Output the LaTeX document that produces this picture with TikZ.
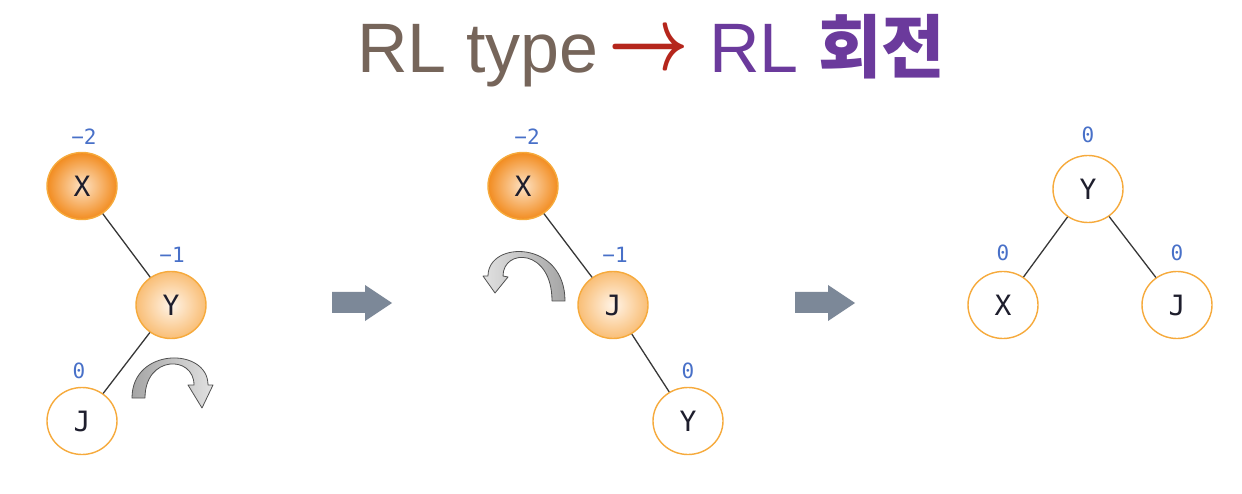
\documentclass[tikz,border=0pt]{standalone}
\usepackage{graphicx}
\usepackage{fontspec}
\setmainfont{Liberation Sans}
\newfontfamily\monof{DejaVu Sans Mono}
\newfontfamily\krf{Noto Sans CJK KR}
\usetikzlibrary{shapes.geometric}
\definecolor{orbord}{RGB}{246,170,60}
\definecolor{hotin}{RGB}{253,226,196}
\definecolor{hotout}{RGB}{242,140,32}
\definecolor{warmin}{RGB}{255,244,232}
\definecolor{warmout}{RGB}{249,190,118}
\definecolor{txt}{RGB}{30,30,45}
\definecolor{balc}{RGB}{72,112,200}
\definecolor{edgec}{RGB}{55,55,55}
\definecolor{arrc}{RGB}{124,136,152}
\definecolor{rotd}{RGB}{80,80,80}
\definecolor{rotdark}{RGB}{165,165,165}
\definecolor{rotlight}{RGB}{225,225,225}
\definecolor{tbrown}{RGB}{118,101,90}
\definecolor{tred}{RGB}{181,38,28}
\definecolor{tpurple}{RGB}{107,58,156}
\begin{document}
\begin{tikzpicture}[x=1pt,y=-1pt,
 tnode/.style={ellipse, minimum width=70pt, minimum height=67pt, inner sep=0pt, draw=orbord, line width=1.4pt, font=\monof\fontsize{28}{28}\selectfont, text=txt},
 hot/.style={tnode, inner color=hotin, outer color=hotout},
 warm/.style={tnode, inner color=warmin, outer color=warmout},
 cold/.style={tnode, fill=white},
 bal/.style={font=\monof\fontsize{21}{21}\selectfont, text=balc, inner sep=0pt},
 edge/.style={draw=edgec, line width=1.3pt},
 bigarrow/.style={fill=arrc},
 rot/.style={draw=rotd, line width=0.8pt, line join=round}]
\useasboundingbox (0,0) rectangle (1242,494);

% title
\node[anchor=base west, inner sep=0pt, text=tbrown, font=\fontsize{70}{70}\selectfont] (t1) at (357,73) {RL type};
\node[anchor=base west, inner sep=0pt, text=tred] (t2) at (608,70) {\scalebox{7}[9]{\boldmath$\rightarrow$}};
\node[anchor=base west, inner sep=0pt, text=tpurple, font=\fontsize{70}{70}\selectfont] (t3) at (709,73) {RL {\krf\bfseries\fontsize{69}{69}\selectfont 회전}};

% tree 1
\node[hot] (x1) at (82,186) {X};
\node[warm] (y1) at (171,305) {Y};
\node[cold] (j1) at (82,421) {J};
\draw[edge] (x1) -- (y1);
\draw[edge] (y1) -- (j1);
\node[bal] (bx1) at (84,137) {−2};
\node[bal] (by1) at (172,255) {−1};
\node[bal] (bj1) at (79,371) {0};
\path[rot, left color=rotdark, right color=rotlight]
 (132,398) .. controls (132,347) and (208,347) .. (208,385) -- (213,385) -- (202,408) -- (188,385) -- (194,385)
 .. controls (194,355) and (145,355) .. (145,398) -- cycle;

% arrow 1
\path[bigarrow] (332,292) -- (365,292) -- (365,285) -- (392,303) -- (365,321) -- (365,313) -- (332,313) -- cycle;

% tree 2
\node[hot] (x2) at (523,186) {X};
\node[warm] (j2) at (613,305) {J};
\node[cold] (y2) at (688,421) {Y};
\draw[edge] (x2) -- (j2);
\draw[edge] (j2) -- (y2);
\node[bal] (bx2) at (527,137) {−2};
\node[bal] (bj2) at (615,255) {−1};
\node[bal] (by2) at (688,371) {0};
\path[rot, left color=rotlight, right color=rotdark]
 (565,301) .. controls (565,240) and (488,240) .. (488,276) -- (483,276) -- (495,293) -- (508,277) -- (503,276)
 .. controls (503,248) and (552,248) .. (552,301) -- cycle;

% arrow 2
\path[bigarrow] (795,292) -- (828,292) -- (828,285) -- (855,303) -- (828,321) -- (828,313) -- (795,313) -- cycle;

% tree 3
\node[cold] (y3) at (1088,189) {Y};
\node[cold] (x3) at (1003,305) {X};
\node[cold] (j3) at (1177,305) {J};
\draw[edge] (y3) -- (x3);
\draw[edge] (y3) -- (j3);
\node[bal] (by3) at (1088,135) {0};
\node[bal] (bx3) at (1003,253) {0};
\node[bal] (bj3) at (1177,253) {0};
\end{tikzpicture}
\end{document}
